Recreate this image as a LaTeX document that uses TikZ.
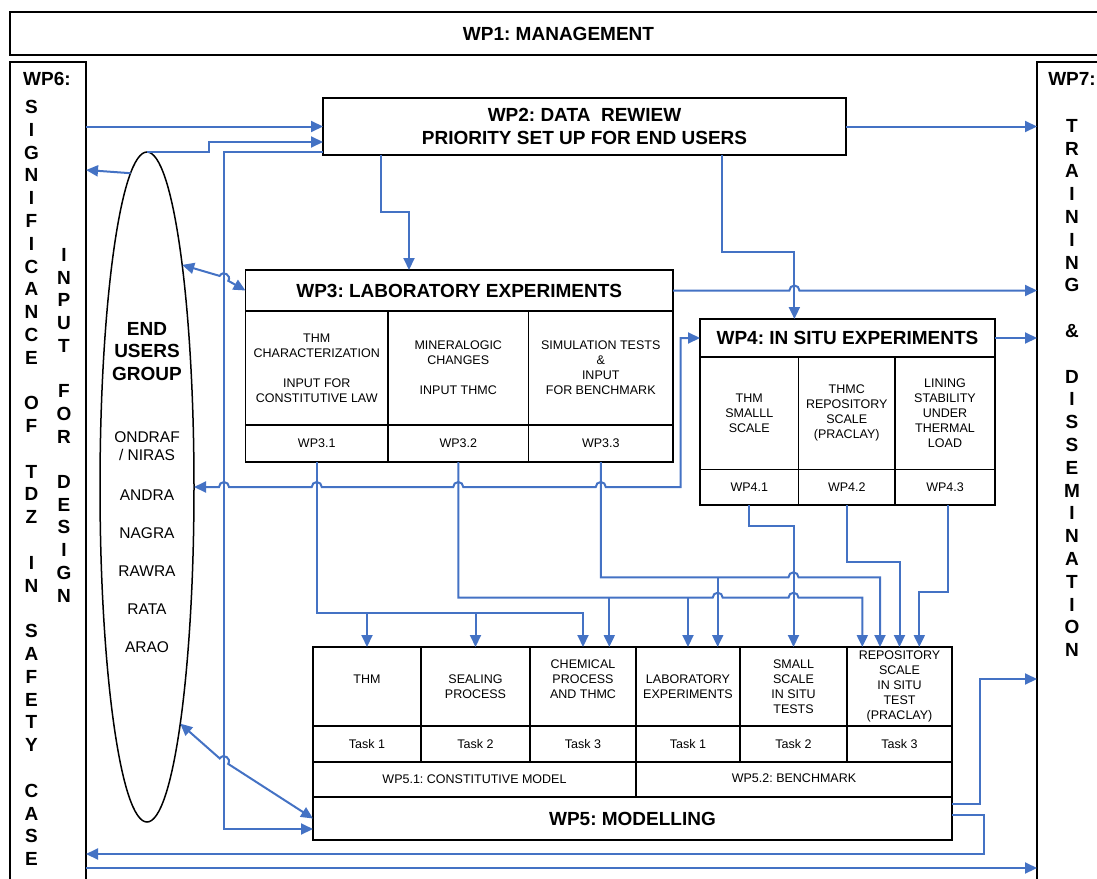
\documentclass[tikz,border=0pt]{standalone}
\usepackage{fontspec}
\setmainfont{Liberation Sans}
\usetikzlibrary{arrows.meta,calc,shapes.geometric}
\definecolor{lnblue}{RGB}{68,114,196}
\begin{document}
\frenchspacing
\begin{tikzpicture}[x=1pt,y=-1pt,
  box/.style={draw=black, line width=1.6pt, inner sep=0pt, outer sep=0pt, anchor=north west, align=center},
  body/.style={font=\frenchspacing\fontsize{12.5}{15}\selectfont},
  head/.style={font=\frenchspacing\bfseries\fontsize{19}{22.79}\selectfont},
  vword/.style={align=center, inner sep=0pt, font=\frenchspacing\bfseries\fontsize{19}{22.79}\selectfont},
  conn/.style={draw=lnblue, line width=2pt},
  arr/.style={conn, -{Triangle[length=12pt,width=11pt]}},
  darr/.style={conn, {Triangle[length=12pt,width=11pt]}-{Triangle[length=12pt,width=11pt]}},
]
\useasboundingbox (0,0) rectangle (1097,878);
\clip (0,0) rectangle (1097,878);

% ---------- outer boxes ----------
\node[box, head, minimum width=1097pt, minimum height=43pt] (wp1) at (10,12) {WP1: MANAGEMENT};
\node[box, minimum width=76pt, minimum height=823pt] (wp6) at (10,62) {};
\node[box, minimum width=70pt, minimum height=823pt] (wp7) at (1037,62) {};

\node[vword] (wp6t) at (47,79) {WP6:};
\node[vword] (w6a) at (31.5,232.3) {S\\I\\G\\N\\I\\F\\I\\C\\A\\N\\C\\E};
\node[vword] (w6b) at (31.5,414.7) {O\\F};
\node[vword] (w6c) at (31.5,494.4) {T\\D\\Z};
\node[vword] (w6d) at (31.5,574.2) {I\\N};
\node[vword] (w6e) at (31.5,688.1) {S\\A\\F\\E\\T\\Y};
\node[vword] (w6f) at (31.5,824.9) {C\\A\\S\\E};
\node[vword] (w6g) at (64,300.4) {I\\N\\P\\U\\T};
\node[vword] (w6h) at (64,413.9) {F\\O\\R};
\node[vword] (w6i) at (64,538.75) {D\\E\\S\\I\\G\\N};

\node[vword] (wp7t) at (1072,79) {WP7:};
\node[vword] (w7a) at (1072,205.7) {T\\R\\A\\I\\N\\I\\N\\G};
\node[vword] (w7b) at (1072,331) {\&};
\node[vword] (w7c) at (1072,513.3) {D\\I\\S\\S\\E\\M\\I\\N\\A\\T\\I\\O\\N};

% ---------- WP2 ----------
\node[box, head, minimum width=523pt, minimum height=57pt] (wp2) at (323,98) {WP2: DATA\ \ REWIEW\\PRIORITY SET UP FOR END USERS};

% ---------- end users ellipse ----------
\node[draw=black, line width=1.5pt, ellipse, minimum width=94pt, minimum height=670pt, inner sep=0pt, outer sep=0pt] (eug) at (147,487) {};
\node[align=center, inner sep=0pt, font=\bfseries\fontsize{19}{22.5}\selectfont] (eugt) at (147,351.5) {END\\USERS\\GROUP};
\node[align=center, inner sep=0pt, font=\fontsize{15.5}{18}\selectfont] (eug1) at (147,446) {ONDRAF\\/ NIRAS};
\node[align=center, inner sep=0pt, font=\fontsize{15.5}{38}\selectfont] (eug2) at (147,571) {ANDRA\\NAGRA\\RAWRA\\RATA\\ARAO};

% ---------- WP3 ----------
\node[box, head, minimum width=427.5pt, minimum height=41pt] (wp3) at (245.5,270) {WP3: LABORATORY EXPERIMENTS};
\node[box, body, minimum width=142.5pt, minimum height=114pt] (wp3a) at (245.5,311) {THM\\CHARACTERIZATION\\~\\INPUT FOR\\CONSTITUTIVE LAW};
\node[box, body, minimum width=140.5pt, minimum height=114pt] (wp3b) at (388,311) {MINERALOGIC\\CHANGES\\~\\INPUT THMC};
\node[box, body, minimum width=144.5pt, minimum height=114pt] (wp3c) at (528.5,311) {SIMULATION TESTS\\\&\\INPUT\\FOR BENCHMARK};
\node[box, body, minimum width=142.5pt, minimum height=37pt] (wp31) at (245.5,425) {WP3.1};
\node[box, body, minimum width=140.5pt, minimum height=37pt] (wp32) at (388,425) {WP3.2};
\node[box, body, minimum width=144.5pt, minimum height=37pt] (wp33) at (528.5,425) {WP3.3};

% ---------- WP4 ----------
\node[box, head, minimum width=295pt, minimum height=38pt] (wp4) at (700,319) {WP4: IN SITU EXPERIMENTS};
\node[box, body, minimum width=98.5pt, minimum height=112.5pt] (wp4a) at (700,357) {THM\\SMALLL\\SCALE};
\node[box, body, minimum width=96.5pt, minimum height=112.5pt] (wp4b) at (798.5,357) {THMC\\REPOSITORY\\SCALE\\(PRACLAY)};
\node[box, body, minimum width=100pt, minimum height=112.5pt] (wp4c) at (895,357) {LINING\\STABILITY\\UNDER\\THERMAL\\LOAD};
\node[box, body, minimum width=98.5pt, minimum height=35.5pt] (wp41) at (700,469.5) {WP4.1};
\node[box, body, minimum width=96.5pt, minimum height=35.5pt] (wp42) at (798.5,469.5) {WP4.2};
\node[box, body, minimum width=100pt, minimum height=35.5pt] (wp43) at (895,469.5) {WP4.3};

% ---------- WP5 ----------
\node[box, body, minimum width=108pt, minimum height=79pt] (wp5a) at (313,647) {THM\\~};
\node[box, body, minimum width=109pt, minimum height=79pt] (wp5b) at (421,647) {SEALING\\PROCESS};
\node[box, body, minimum width=106pt, minimum height=79pt] (wp5c) at (530,647) {CHEMICAL\\PROCESS\\AND THMC\\~};
\node[box, body, minimum width=104pt, minimum height=79pt] (wp5d) at (636,647) {LABORATORY\\EXPERIMENTS};
\node[box, body, minimum width=107pt, minimum height=79pt] (wp5e) at (740,647) {SMALL\\SCALE\\IN SITU\\TESTS};
\node[box, body, minimum width=105pt, minimum height=79pt] (wp5f) at (847,647) {REPOSITORY\\SCALE\\IN SITU\\TEST\\(PRACLAY)};
\node[box, body, minimum width=108pt, minimum height=36pt] (t1) at (313,726) {Task 1};
\node[box, body, minimum width=109pt, minimum height=36pt] (t2) at (421,726) {Task 2};
\node[box, body, minimum width=106pt, minimum height=36pt] (t3) at (530,726) {Task 3};
\node[box, body, minimum width=104pt, minimum height=36pt] (t4) at (636,726) {Task 1};
\node[box, body, minimum width=107pt, minimum height=36pt] (t5) at (740,726) {Task 2};
\node[box, body, minimum width=105pt, minimum height=36pt] (t6) at (847,726) {Task 3};
\node[box, body, minimum width=323pt, minimum height=35pt] (wp51) at (313,762) {WP5.1: CONSTITUTIVE MODEL};
\node[box, body, minimum width=316pt, minimum height=35pt] (wp52) at (636,762) {\raisebox{2.5pt}{WP5.2: BENCHMARK}};
\node[box, head, minimum width=639pt, minimum height=43pt] (wp5m) at (313,797) {WP5: MODELLING};

% ---------- connectors ----------
% WP6 -> WP2
\draw[arr] (wp6.east |- wp2.west) -- (wp2.west);
% end users -> WP2
\draw[arr] (eug.north) -- ++(62,0) |- ($(wp2.north west)+(0,44)$);
% end users -> WP6
\draw[arr] (eug.93) -- ($(wp6.north east)+(0,108)$);
% WP2 -> WP7
\draw[arr] (wp2.east) -- (wp2.east -| wp7.west);
% WP2 -> WP3
\draw[arr] ($(wp2.south west)+(58,0)$) -- ++(0,57) -| ($(wp3.north west)+(163.5,0)$);
% WP2 -> WP4
\draw[arr] ($(wp2.south west)+(399,0)$) -- ++(0,97) -| ($(wp4.north west)+(94.4,0)$);
% WP2 -> WP5
\draw[arr] ($(wp2.north west)+(0,54)$) -- ++(-99,0) |- ($(wp5m.north west)+(0,32)$);

% end users <-> WP3
\draw[darr] (eug.81.75) -- (219.65,275.91) to[bend left=90,looseness=1.7] (228.35,280.83) -- (wp3.west);
% end users <-> WP4
\draw[darr] (eug.east) -- (219,487) arc[start angle=180,end angle=0,radius=5pt]
   -- (311.75,487) arc[start angle=180,end angle=0,radius=5pt]
   -- (453.25,487) arc[start angle=180,end angle=0,radius=5pt]
   -- (595.75,487) arc[start angle=180,end angle=0,radius=5pt]
   -- (680.5,487) |- (wp4.west);
% end users <-> WP5
\draw[darr] (eug.-82.56) -- (219.8,758.5) to[bend left=90,looseness=1.7] (228.2,763.9) -- (wp5m.west);

% WP3 -> WP7
\draw[arr] (wp3.east) -- (789.4,290.5) arc[start angle=180,end angle=0,radius=5pt] -- (wp3.east -| wp7.west);
% WP4 -> WP7
\draw[arr] (wp4.east) -- (wp4.east -| wp7.west);

% WP3.1 -> WP5 tasks
\path (wp31.south) ++(0,151.3) coordinate (j31);
\draw[arr] (wp31.south) -- (j31) -| (wp5c.north);
\draw[arr] (wp5a.north |- j31) -- (wp5a.north);
\draw[arr] (wp5b.north |- j31) -- (wp5b.north);

% WP3.2 -> WP5 tasks
\path (wp32.south) ++(0,135.7) coordinate (j32);
\coordinate (c3b) at ($(wp5c.north)+(26.3,0)$);
\coordinate (c6a) at ($(wp5f.north west)+(15.3,0)$);
\draw[arr] (wp32.south) -- (j32) -- (712.7,597.7) arc[start angle=180,end angle=0,radius=5pt]
   -- (788.5,597.7) arc[start angle=180,end angle=0,radius=5pt] -- (c6a |- j32) -- (c6a);
\draw[arr] (c3b |- j32) -- (c3b);
\draw[arr] (wp5d.north |- j32) -- (wp5d.north);

% WP3.3 -> WP5 tasks
\path (wp33.south) ++(0,115.3) coordinate (j33);
\coordinate (c4b) at ($(wp5d.north)+(29.7,0)$);
\coordinate (c6b) at ($(wp5f.north west)+(33,0)$);
\draw[arr] (wp33.south) -- (j33) -- (788.5,577.3) arc[start angle=180,end angle=0,radius=5pt]
   -- (c6b |- j33) -- (c6b);
\draw[arr] (c4b |- j33) -- (c4b);

% WP4.x -> WP5 tasks
\draw[arr] (wp41.south) -- ++(0,20.7) -| (wp5e.north);
\draw[arr] (wp42.south) -- ++(0,56.7) -| (wp5f.north);
\draw[arr] ($(wp43.south)+(3,0)$) -- ++(0,86.7) -| ($(wp5f.north west)+(72.3,0)$);

% WP5 -> WP7, WP5 -> WP6, WP6 -> WP7
\draw[arr] ($(wp5m.north east)+(0,7)$) -- ++(28,0) |- ($(wp7.north west)+(0,617)$);
\draw[arr] ($(wp5m.north east)+(0,18)$) -- ++(32,0) |- ($(wp6.north east)+(0,792)$);
\draw[arr] ($(wp6.north east)+(0,806)$) -- ($(wp7.north west)+(0,806)$);
\end{tikzpicture}
\end{document}
